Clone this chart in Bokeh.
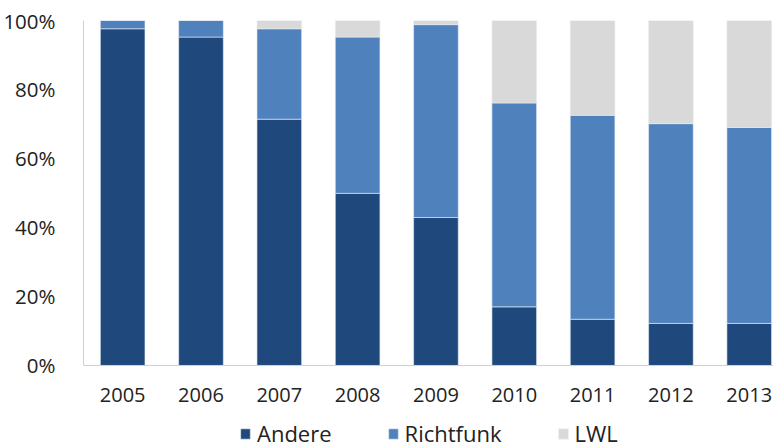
from bokeh.plotting import figure
from bokeh.models import ColumnDataSource, FixedTicker, Legend, Range1d, Span
from bokeh.core.properties import value
from bokeh.embed import file_html
from bokeh.resources import INLINE

years = ["2005", "2006", "2007", "2008", "2009", "2010", "2011", "2012", "2013"]
andere = [97.6, 95.2, 71.4, 49.9, 42.9, 17.0, 13.4, 12.2, 12.2]
richtfunk = [2.4, 4.8, 26.2, 45.3, 55.9, 59.1, 59.1, 57.9, 56.8]
lwl = [0.0, 0.0, 2.4, 4.8, 1.2, 23.9, 27.5, 29.9, 31.0]
series = ["Andere", "Richtfunk", "LWL"]
colors = ["#1F497D", "#4F81BD", "#D9D9D9"]
y_ticks = [0, 20, 40, 60, 80, 100]

x = list(range(len(years)))
src = ColumnDataSource(dict(x=x, Andere=andere, Richtfunk=richtfunk, LWL=lwl,
                            year=years, zero=[0] * len(years)))

FONT = "Open Sans"

p = figure(width=773, height=448, output_backend="svg", toolbar_location=None,
           x_range=Range1d(-0.5, 8.31), y_range=Range1d(-24.06, 100),
           min_border_left=77, min_border_right=0, min_border_top=20, min_border_bottom=0)
p.outline_line_color = None
p.xgrid.visible = False
p.ygrid.visible = False
p.xaxis.visible = False

rs = p.vbar_stack(series, x="x", width=0.57, source=src, color=colors,
                  line_color="#e8edf4", line_width=0.6)

# baseline and category labels
p.add_layout(Span(location=0, dimension="width", line_color="#D0D0D0", line_width=1))
p.text(x="x", y="zero", text="year", source=src, text_font=value(FONT),
       text_font_size="20px", text_color="#222222", text_align="center",
       text_baseline="middle", y_offset=30)

p.yaxis.ticker = FixedTicker(ticks=y_ticks)
p.yaxis.major_label_overrides = {t: f"{t}%" for t in y_ticks}
p.yaxis.bounds = (0, 100)
p.yaxis.axis_line_color = "#D0D0D0"
p.yaxis.major_tick_line_color = None
p.yaxis.minor_tick_line_color = None
p.yaxis.major_label_text_font = FONT
p.yaxis.major_label_text_font_size = "20.5px"
p.yaxis.major_label_text_color = "#222222"
p.yaxis.major_label_standoff = 22

legend = Legend(items=[(s, [r]) for s, r in zip(series, rs)], orientation="horizontal",
                location=(156, 0), label_text_font=FONT, label_text_font_size="22px",
                label_text_color="#222222", glyph_width=12, glyph_height=13,
                spacing=55, label_standoff=6, border_line_color=None,
                background_fill_alpha=0, margin=0, padding=2)
p.add_layout(legend, "center")

open("out.html", "w").write(file_html(p, INLINE))
